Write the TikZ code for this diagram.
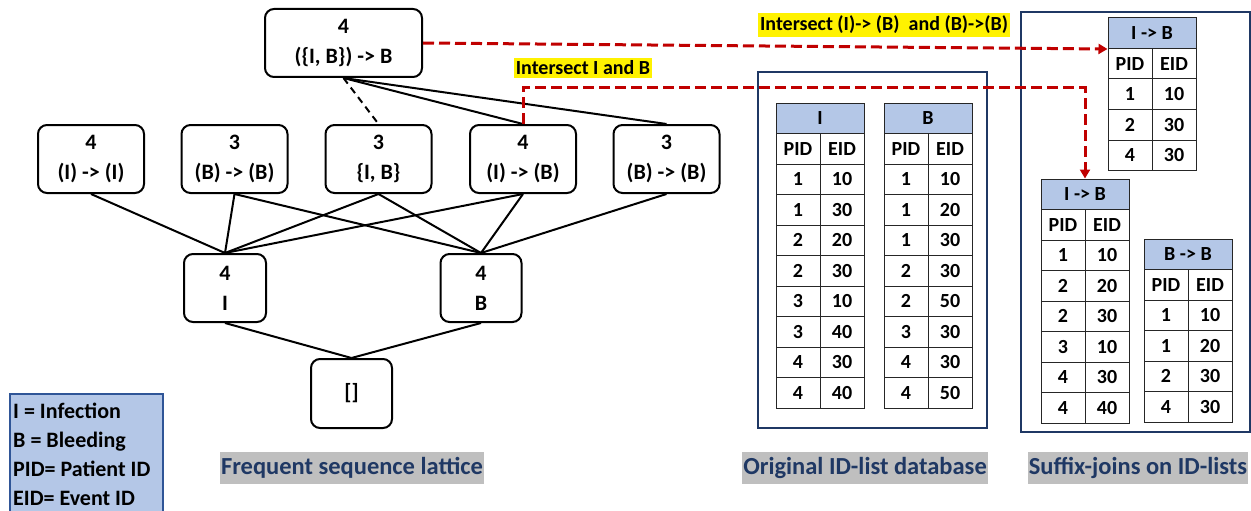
\documentclass[tikz,border=0pt]{standalone}
\usepackage{fontspec}
\setmainfont{Carlito}
\usetikzlibrary{arrows.meta}

\definecolor{hdblue}{HTML}{B4C7E7}
\definecolor{navy}{HTML}{1F3864}
\definecolor{lgline}{HTML}{2F5597}
\definecolor{darkred}{HTML}{C00000}
\definecolor{shade}{HTML}{BFBFBF}

\newcommand{\sz}[2]{\fontsize{#1}{#2}\selectfont}

% one ID-list table: name, left x, top y, header, pid/eid rows
\newcommand{\idlist}[5]{%
  \node[headcell] (#1-h) at (#2+44,#3+15.25) {#4};
  \node[cell] (#1-pid) at (#2+22,#3+45.75) {PID};
  \node[cell] (#1-eid) at (#2+66,#3+45.75) {EID};
  \foreach \p/\e [count=\k] in {#5}{
    \node[cell] (#1-p\k) at (#2+22,#3+45.75+30.5*\k) {\p};
    \node[cell] (#1-e\k) at (#2+66,#3+45.75+30.5*\k) {\e};
  }
}

\tikzset{
  lat/.style={draw, line width=2pt, rounded corners=9pt, minimum width=106pt,
    minimum height=68pt, inner sep=0pt, align=center, font=\bfseries\sz{22}{30}},
  cell/.style={draw=black!85, line width=1pt, minimum width=44pt, minimum height=30.5pt,
    inner sep=0pt, font=\bfseries\sz{20}{24}},
  headcell/.style={cell, fill=hdblue, minimum width=88pt},
  frame/.style={draw=navy, line width=2.5pt},
  edge/.style={line width=2pt},
  reddash/.style={draw=darkred, line width=3pt, dash pattern=on 11pt off 5pt,
    -{Triangle[length=9pt,width=10pt]}},
  hilite/.style={fill=yellow, inner xsep=2pt, inner ysep=3pt, font=\bfseries\sz{20}{24}},
  caption/.style={fill=shade, text=navy, inner xsep=1pt, minimum height=32pt,
    font=\bfseries\sz{24.5}{28}}
}

\begin{document}
\begin{tikzpicture}[x=1pt,y=-1pt]
\useasboundingbox (0,0) rectangle (1251,511);

% lattice
\node[lat, minimum width=157pt] (top) at (343.5,43) {4\\(\{I, B\}) -> B};
\node[lat] (ii) at (91,159) {4\\(I) -> (I)};
\node[lat] (bb) at (234.5,159) {3\\(B) -> (B)};
\node[lat] (ib) at (378.5,159) {3\\\{I, B\}};
\node[lat] (itob) at (523,159) {4\\(I) -> (B)};
\node[lat] (bb2) at (666.5,159) {3\\(B) -> (B)};
\node[lat, minimum width=82pt] (i) at (225,288) {4\\I};
\node[lat, minimum width=81pt] (b) at (481,288) {4\\B};
\node[lat, minimum width=81pt, minimum height=69pt] (empty) at (351.5,393.5) {[]};

\draw[edge, dash pattern=on 7pt off 5pt] (top.south) -- (ib.north);
\draw[edge] (top.south) -- (itob.north);
\draw[edge] (top.south) -- (bb2.north);
\draw[edge] (ii.south) -- (i.north);
\draw[edge] (bb.south) -- (i.north);
\draw[edge] (bb.south) -- (b.north);
\draw[edge] (ib.south) -- (i.north);
\draw[edge] (ib.south) -- (b.north);
\draw[edge] (itob.south) -- (i.north);
\draw[edge] (itob.south) -- (b.north);
\draw[edge] (bb2.south) -- (b.north);
\draw[edge] (i.south) -- (empty.north);
\draw[edge] (b.south) -- (empty.north);

% legend
\draw[draw=lgline, line width=1.5pt, fill=hdblue] (10,394) rectangle (163,530);
\node[anchor=north west, align=left, inner sep=0pt, font=\bfseries\sz{22}{29}]
  (legend) at (13,403) {I = Infection\\B = Bleeding\\PID= Patient ID\\EID= Event ID};

% original ID-lists
\draw[frame] (758,72) rectangle (987,428);
\idlist{oi}{776}{103}{I}{1/10,1/30,2/20,2/30,3/10,3/40,4/30,4/40}
\idlist{ob}{884}{103}{B}{1/10,1/20,1/30,2/30,2/50,3/30,4/30,4/50}

% suffix joins
\draw[frame] (1021,12) rectangle (1250,432);
\idlist{ibt}{1108}{18}{I -> B}{1/10,2/30,4/30}
\idlist{ibb}{1041}{179}{I -> B}{1/10,2/20,2/30,3/10,4/30,4/40}
\idlist{bbt}{1144}{239}{B -> B}{1/10,1/20,2/30,4/30}

% joins
\node[hilite] (lab1) at (884,25) {Intersect (I)-> (B)\ \ and (B)->(B)};
\node[hilite] (lab2) at (583,68) {Intersect I and B};
\draw[reddash] (top.east) -- (ibt-h.south west);
\draw[reddash] (itob.north) -- (itob.north |- 0,88) -| (ibb-h.north);

% captions
\node[caption] (cap1) at (352,468) {Frequent sequence lattice};
\node[caption] (cap2) at (865,468) {Original ID-list database};
\node[caption] (cap3) at (1138,468) {Suffix-joins on ID-lists};
\end{tikzpicture}
\end{document}
